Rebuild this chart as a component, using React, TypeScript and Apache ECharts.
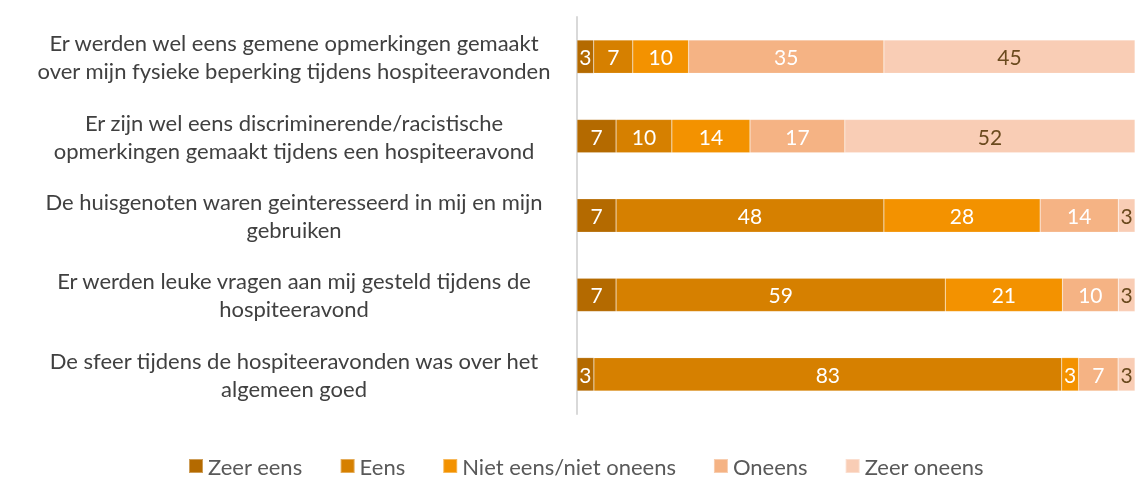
import React, { useEffect, useRef } from "react";
import * as echarts from "echarts";

const categories = [
  "Er werden wel eens gemene opmerkingen gemaakt\nover mijn fysieke beperking tijdens hospiteeravonden",
  "Er zijn wel eens discriminerende/racistische\nopmerkingen gemaakt tijdens een hospiteeravond",
  "De huisgenoten waren geinteresseerd in mij en mijn\ngebruiken",
  "Er werden leuke vragen aan mij gesteld tijdens de\nhospiteeravond",
  "De sfeer tijdens de hospiteeravonden was over het\nalgemeen goed",
];

const seriesNames = ["Zeer eens", "Eens", "Niet eens/niet oneens", "Oneens", "Zeer oneens"];
const zeerEens = [3, 7, 7, 7, 3];
const eens = [7, 10, 48, 59, 83];
const nietEens = [10, 14, 28, 21, 3];
const oneens = [35, 17, 14, 10, 7];
const zeerOneens = [45, 52, 3, 3, 3];

const colors = ["#B46A00", "#D68000", "#F39200", "#F5B384", "#F9CDB5"];
const labelColors = ["#FFFFFF", "#FFFFFF", "#FFFFFF", "#FFFFFF", "#6B4A1E"];

export default function App() {
  const ref = useRef<HTMLDivElement>(null);
  useEffect(() => {
    if (!ref.current) return;
    const chart = echarts.init(ref.current, undefined, { renderer: "svg" });
    const all = [zeerEens, eens, nietEens, oneens, zeerOneens];
    const totals = categories.map((_, i) => all.reduce((s, arr) => s + arr[i], 0));
    const font = "Lato";
    chart.setOption({
      animation: false,
      textStyle: { fontFamily: font },
      legend: {
        bottom: 1,
        left: 188,
        padding: 0,
        itemWidth: 14,
        itemHeight: 14,
        itemGap: 37,
        icon: "rect",
        textStyle: { fontSize: 22, color: "#595959", fontFamily: font },
        data: seriesNames,
      },
      grid: { left: 577, right: 2, top: 17, bottom: 64, containLabel: false },
      xAxis: {
        type: "value",
        min: 0,
        max: 100,
        show: false,
      },
      yAxis: {
        type: "category",
        inverse: true,
        data: categories,
        axisLine: { show: true, lineStyle: { color: "#D9D9D9", width: 2 } },
        axisTick: { show: false },
        axisLabel: {
          margin: 283,
          align: "center",
          fontSize: 22,
          lineHeight: 28,
          color: "#404040",
          fontFamily: font,
        },
      },
      series: all.map((arr, k) => ({
        name: seriesNames[k],
        type: "bar",
        stack: "total",
        barWidth: "42%",
        itemStyle: { color: colors[k], borderColor: "rgba(255,255,255,0.35)", borderWidth: 0.5 },
        label: {
          show: true,
          position: "inside",
          fontSize: 21,
          color: labelColors[k],
          fontFamily: font,
          formatter: (p: any) => String(arr[p.dataIndex]),
        },
        data: arr.map((v, i) => (v / totals[i]) * 100),
      })),
    });
    return () => chart.dispose();
  }, []);
  return (
    <div
      ref={ref}
      style={{ position: "fixed", left: 0, top: 0, width: 1137, height: 478 }}
    />
  );
}
